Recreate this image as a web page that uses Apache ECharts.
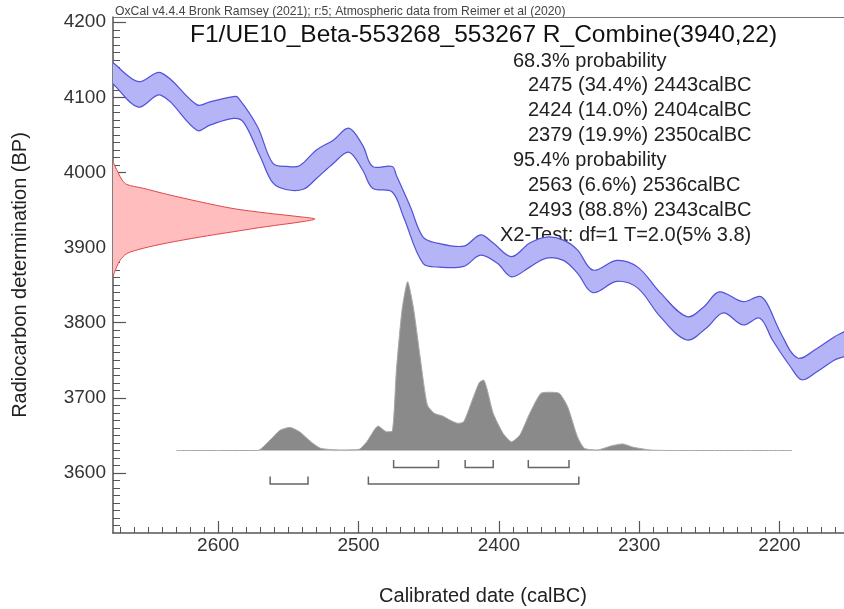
<!DOCTYPE html>
<html>
<head>
<meta charset="utf-8">
<title>R_Combine(3940,22)</title>
<script src="https://cdn.jsdelivr.net/npm/echarts@6.0.0/dist/echarts.min.js"></script>
<style>
html, body { margin: 0; padding: 0; background: #fff; }
#main { width: 844px; height: 609px; }
</style>
</head>
<body>
<div id="main"></div>
<script>
// calibration curve band (upper / lower edge)
var upperYears = [2682, 2675, 2657, 2641, 2615, 2606, 2589, 2586, 2572, 2561, 2551, 2542, 2530, 2518, 2507, 2497, 2490, 2476, 2473, 2463, 2454, 2444, 2425, 2413, 2404, 2391, 2378, 2366, 2354, 2344, 2333, 2316, 2301, 2285, 2266, 2254, 2243, 2226, 2214, 2209, 2199, 2187, 2173, 2161, 2154, 2148];
var upperBP = [4155, 4146, 4121, 4133, 4090, 4094, 4101, 4100, 4061, 4012, 4008, 4009, 4030, 4043, 4059, 4036, 4008, 4008, 3996, 3954, 3914, 3906, 3902, 3917, 3906, 3888, 3906, 3914, 3910, 3897, 3870, 3883, 3874, 3840, 3808, 3821, 3841, 3828, 3835, 3826, 3786, 3753, 3766, 3781, 3788, 3795];
var lowerYears = [2682, 2675, 2657, 2641, 2615, 2606, 2589, 2582, 2570, 2561, 2551, 2539, 2530, 2518, 2507, 2497, 2490, 2476, 2468, 2454, 2442, 2425, 2413, 2401, 2391, 2378, 2366, 2354, 2344, 2333, 2316, 2301, 2285, 2266, 2252, 2240, 2226, 2214, 2205, 2192, 2184, 2173, 2161, 2154, 2148];
var lowerBP = [4128, 4118, 4087, 4103, 4056, 4063, 4072, 4067, 4021, 3986, 3977, 3978, 3992, 4012, 4027, 4003, 3979, 3974, 3941, 3879, 3874, 3875, 3890, 3879, 3861, 3874, 3886, 3883, 3866, 3840, 3855, 3846, 3808, 3777, 3793, 3813, 3797, 3806, 3777, 3741, 3724, 3735, 3750, 3755, 3762];

// radiocarbon determination (relative density)
var redBP = [4014, 4000, 3990, 3984, 3979, 3971, 3961, 3952, 3946, 3941, 3938, 3934, 3928, 3921, 3914, 3906, 3899, 3892, 3883, 3874, 3862];
var redDensity = [0, 0.025, 0.045, 0.068, 0.149, 0.266, 0.43, 0.594, 0.761, 0.926, 1.0, 0.926, 0.761, 0.594, 0.43, 0.266, 0.149, 0.068, 0.035, 0.018, 0];

// calibrated date probability (relative)
var calYears = [2630, 2600, 2572, 2563, 2556, 2549, 2542, 2534, 2527, 2513, 2503, 2499, 2494, 2486, 2480, 2476, 2473, 2469, 2465, 2461, 2456, 2451, 2446, 2440, 2435, 2429, 2425, 2418, 2414, 2411, 2404, 2397, 2391, 2385, 2378, 2370, 2364, 2357, 2351, 2344, 2339, 2330, 2320, 2312, 2304, 2292, 2278, 2191];
var calProb = [0, 0, 0, 0.062, 0.12, 0.137, 0.111, 0.052, 0.013, 0.003, 0.004, 0.009, 0.053, 0.145, 0.111, 0.114, 0.477, 0.832, 1.0, 0.852, 0.548, 0.27, 0.22, 0.204, 0.181, 0.161, 0.171, 0.319, 0.402, 0.418, 0.22, 0.102, 0.052, 0.092, 0.22, 0.339, 0.345, 0.339, 0.26, 0.082, 0.013, 0.003, 0.027, 0.039, 0.019, 0.003, 0, 0];

// ranges: from, to, percent
var ranges68 = [[2475, 2443, 34.4], [2424, 2404, 14.0], [2379, 2350, 19.9]];
var ranges95 = [[2563, 2536, 6.6], [2493, 2343, 88.8]];

var xTicks = [2600, 2500, 2400, 2300, 2200];
var yTicks = [3600, 3700, 3800, 3900, 4000, 4100, 4200];

var xMinor = [];
for (var v = 2160; v <= 2670; v += 10) xMinor.push(v);
var yMinor = [];
for (var w = 3530; w <= 4200; w += 10) yMinor.push(w);

var FONT = 'Liberation Sans, Arial, Helvetica, sans-serif';
var AXIS = '#555';

var myChart = echarts.init(document.getElementById('main'), null, { renderer: 'canvas' });

function rangeText(r) {
    return r[0] + ' (' + r[2].toFixed(1) + '%) ' + r[1] + 'calBC';
}
function plain(v) {
    return String(v);
}

var lines = [];
lines.push({ t: '68.3% probability', x: 513 });
ranges68.forEach(function (r) { lines.push({ t: rangeText(r), x: 528 }); });
lines.push({ t: '95.4% probability', x: 513 });
ranges95.forEach(function (r) { lines.push({ t: rangeText(r), x: 528 }); });
lines.push({ t: 'X2-Test: df=1 T=2.0(5% 3.8)', x: 500 });

var graphics = [
    { type: 'text', x: 115, y: 12, style: { text: 'OxCal v4.4.4 Bronk Ramsey (2021); r:5; Atmospheric data from Reimer et al (2020)', font: '12.2px ' + FONT, fill: '#444', verticalAlign: 'middle' } },
    { type: 'text', x: 190, y: 35, style: { text: 'F1/UE10_Beta-553268_553267 R_Combine(3940,22)', font: '24.5px ' + FONT, fill: '#111', verticalAlign: 'middle' } },
    { type: 'text', x: 20, y: 275, rotation: Math.PI / 2, style: { text: 'Radiocarbon determination (BP)', font: '20px ' + FONT, fill: '#222', align: 'center', verticalAlign: 'middle' } },
    { type: 'text', x: 483, y: 596, style: { text: 'Calibrated date (calBC)', font: '20px ' + FONT, fill: '#222', align: 'center', verticalAlign: 'middle' } }
];
lines.forEach(function (l, i) {
    graphics.push({ type: 'text', x: l.x, y: 61 + i * 24.9, style: { text: l.t, font: '20px ' + FONT, fill: '#222', verticalAlign: 'middle' } });
});

var bracketData = [];
ranges68.forEach(function (r) { bracketData.push([r[0], r[1], 0]); });
ranges95.forEach(function (r) { bracketData.push([r[0], r[1], 1]); });

var option = {
    animation: false,
    backgroundColor: '#fff',
    grid: { left: 113, top: 17, width: 731, height: 516 },
    xAxis: [
        {   // calendar axis: line + minor ticks
            type: 'value', min: 2154, max: 2675, inverse: true, position: 'bottom',
            axisLine: { onZero: false, lineStyle: { color: AXIS, width: 1.5 } },
            axisTick: { inside: true, length: 6, customValues: xMinor, lineStyle: { color: AXIS } },
            axisLabel: { show: false },
            splitLine: { show: false }
        },
        {   // density axis for the radiocarbon curve, also the top frame
            type: 'value', min: 0, max: 3.62, position: 'top',
            axisLine: { onZero: false, lineStyle: { color: '#777', width: 1 } },
            axisTick: { show: false },
            axisLabel: { show: false },
            splitLine: { show: false }
        },
        {   // calendar axis: major ticks + labels
            type: 'value', min: 2154, max: 2675, inverse: true, position: 'bottom',
            axisLine: { show: false, onZero: false },
            axisTick: { inside: true, length: 12, customValues: xTicks, lineStyle: { color: AXIS, width: 1.2 } },
            axisLabel: { customValues: xTicks, formatter: plain, fontSize: 19, fontFamily: FONT, color: '#333', margin: 3 },
            splitLine: { show: false }
        }
    ],
    yAxis: [
        {
            type: 'value', min: 3520, max: 4207, position: 'left',
            axisLine: { onZero: false, lineStyle: { color: AXIS, width: 1.5 } },
            axisTick: { inside: true, length: 7, customValues: yMinor, lineStyle: { color: AXIS } },
            axisLabel: { show: false },
            splitLine: { show: false }
        },
        {
            type: 'value', min: 3520, max: 4207, position: 'left',
            axisLine: { show: false, onZero: false },
            axisTick: { inside: true, length: 13, customValues: yTicks, lineStyle: { color: AXIS, width: 1.2 } },
            axisLabel: { customValues: yTicks, formatter: plain, fontSize: 19, fontFamily: FONT, color: '#333', margin: 7 },
            splitLine: { show: false }
        },
        {   // probability axis for the calibrated distribution
            type: 'value', min: -0.4887, max: 2.568, position: 'right', show: false,
            axisLine: { onZero: false }
        }
    ],
    graphic: graphics,
    series: [
        {
            name: 'calibration curve',
            type: 'custom',
            xAxisIndex: 0, yAxisIndex: 0,
            clip: true,
            data: [[upperYears[0], upperBP[0]]],
            renderItem: function (params, api) {
                var pts = [];
                for (var i = 0; i < upperYears.length; i++) pts.push(api.coord([upperYears[i], upperBP[i]]));
                for (var j = lowerYears.length - 1; j >= 0; j--) pts.push(api.coord([lowerYears[j], lowerBP[j]]));
                return {
                    type: 'polygon',
                    shape: { points: pts, smooth: 0.35 },
                    style: { fill: '#b4b4f6', stroke: '#5252d6', lineWidth: 1.2 }
                };
            }
        },
        {
            name: 'R_Combine',
            type: 'custom',
            xAxisIndex: 1, yAxisIndex: 0,
            clip: true,
            data: [[redDensity[0], redBP[0]]],
            renderItem: function (params, api) {
                var pts = [];
                for (var i = 0; i < redBP.length; i++) pts.push(api.coord([redDensity[i], redBP[i]]));
                return {
                    type: 'group',
                    children: [
                        { type: 'polygon', shape: { points: pts, smooth: 0.3 }, style: { fill: '#ffbdbd', stroke: null } },
                        { type: 'polyline', shape: { points: pts, smooth: 0.3 }, style: { fill: null, stroke: '#e0474c', lineWidth: 1 } }
                    ]
                };
            }
        },
        {
            name: 'calibrated',
            type: 'line',
            xAxisIndex: 0, yAxisIndex: 2,
            showSymbol: false,
            smooth: 0.2,
            data: calYears.map(function (y, i) { return [y, calProb[i]]; }),
            lineStyle: { color: '#a8a8a8', width: 1 },
            areaStyle: { color: '#8a8a8a', opacity: 1 }
        },
        {
            name: 'ranges',
            type: 'custom',
            xAxisIndex: 0, yAxisIndex: 2,
            encode: { x: [0, 1], y: 2 },
            data: bracketData,
            renderItem: function (params, api) {
                var a = api.coord([api.value(0), 0]);
                var b = api.coord([api.value(1), 0]);
                var top = a[1] + (api.value(2) ? 26 : 9.5);
                var h = 7.5;
                return {
                    type: 'polyline',
                    shape: { points: [[a[0], top], [a[0], top + h], [b[0], top + h], [b[0], top]] },
                    style: { fill: null, stroke: '#666', lineWidth: 1.5 }
                };
            }
        }
    ]
};

myChart.setOption(option, true);
</script>
</body>
</html>
